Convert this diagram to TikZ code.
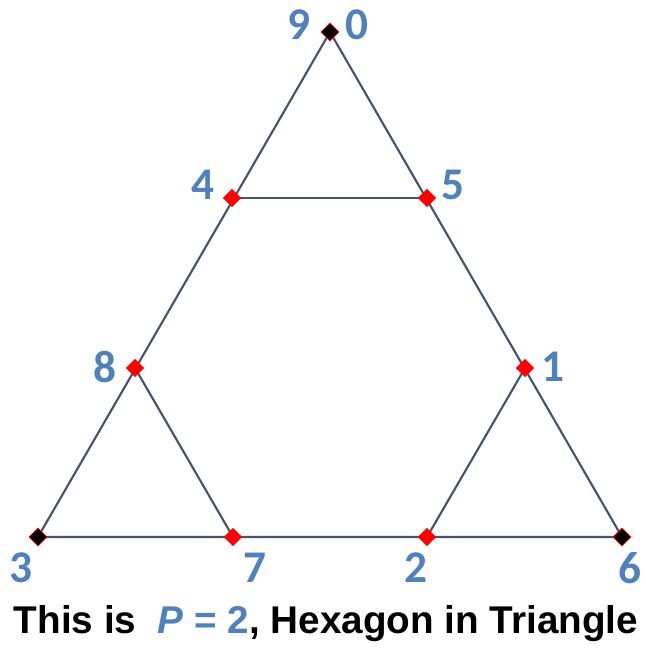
\documentclass[tikz,border=0pt]{standalone}
\usepackage{fontspec}
\usetikzlibrary{shapes.geometric}
\setmainfont{Liberation Sans}
\newfontfamily\lblfont{Carlito}
\definecolor{lineC}{RGB}{68,84,106}
\definecolor{lblC}{RGB}{79,129,189}
\begin{document}
\begin{tikzpicture}[x=0.75pt,y=-0.75pt,
  edge/.style={draw=lineC,line width=1.6pt},
  corner/.style={diamond,fill=black,draw=red,line width=0.6pt,inner sep=0pt,minimum size=13.5pt},
  mid/.style={diamond,fill=red,inner sep=0pt,minimum size=14pt},
  lbl/.style={text=lblC,font=\lblfont\bfseries\fontsize{34}{36}\selectfont,inner sep=0pt}]
\useasboundingbox (0,0) rectangle (645,648);
\coordinate (T) at (330,32);
\coordinate (L) at (38,537);
\coordinate (R) at (622,537);
\coordinate (P4) at (232,198);
\coordinate (P5) at (427,198);
\coordinate (P8) at (135,368);
\coordinate (P1) at (525,368);
\coordinate (P7) at (233,537);
\coordinate (P2) at (427,537);
\draw[edge] (T) -- (L) -- (R) -- cycle;
\draw[edge] (P4) -- (P5);
\draw[edge] (P8) -- (P7);
\draw[edge] (P1) -- (P2);
\node[corner] (nT) at (T) {};
\node[corner] (nL) at (L) {};
\node[corner] (nR) at (R) {};
\foreach \p in {P4,P5,P8,P1,P7,P2} \node[mid] (n\p) at (\p) {};
\node[lbl] (l9) at (299,25) {9};
\node[lbl] (l0) at (357,25) {0};
\node[lbl] (l4) at (203,185) {4};
\node[lbl] (l5) at (453,185) {5};
\node[lbl] (l8) at (105,367) {8};
\node[lbl] (l1) at (553,367) {1};
\node[lbl] (l3) at (21,568) {3};
\node[lbl] (l7) at (255,568) {7};
\node[lbl] (l2) at (416,568) {2};
\node[lbl] (l6) at (630,568) {6};
\node[inner sep=0pt,font=\bfseries\fontsize{29}{32}\selectfont] (cap) at (326,624)
  {This is \ \textcolor{lblC}{\itshape P\/ \upshape= 2}, Hexagon in Triangle};
\end{tikzpicture}
\end{document}
